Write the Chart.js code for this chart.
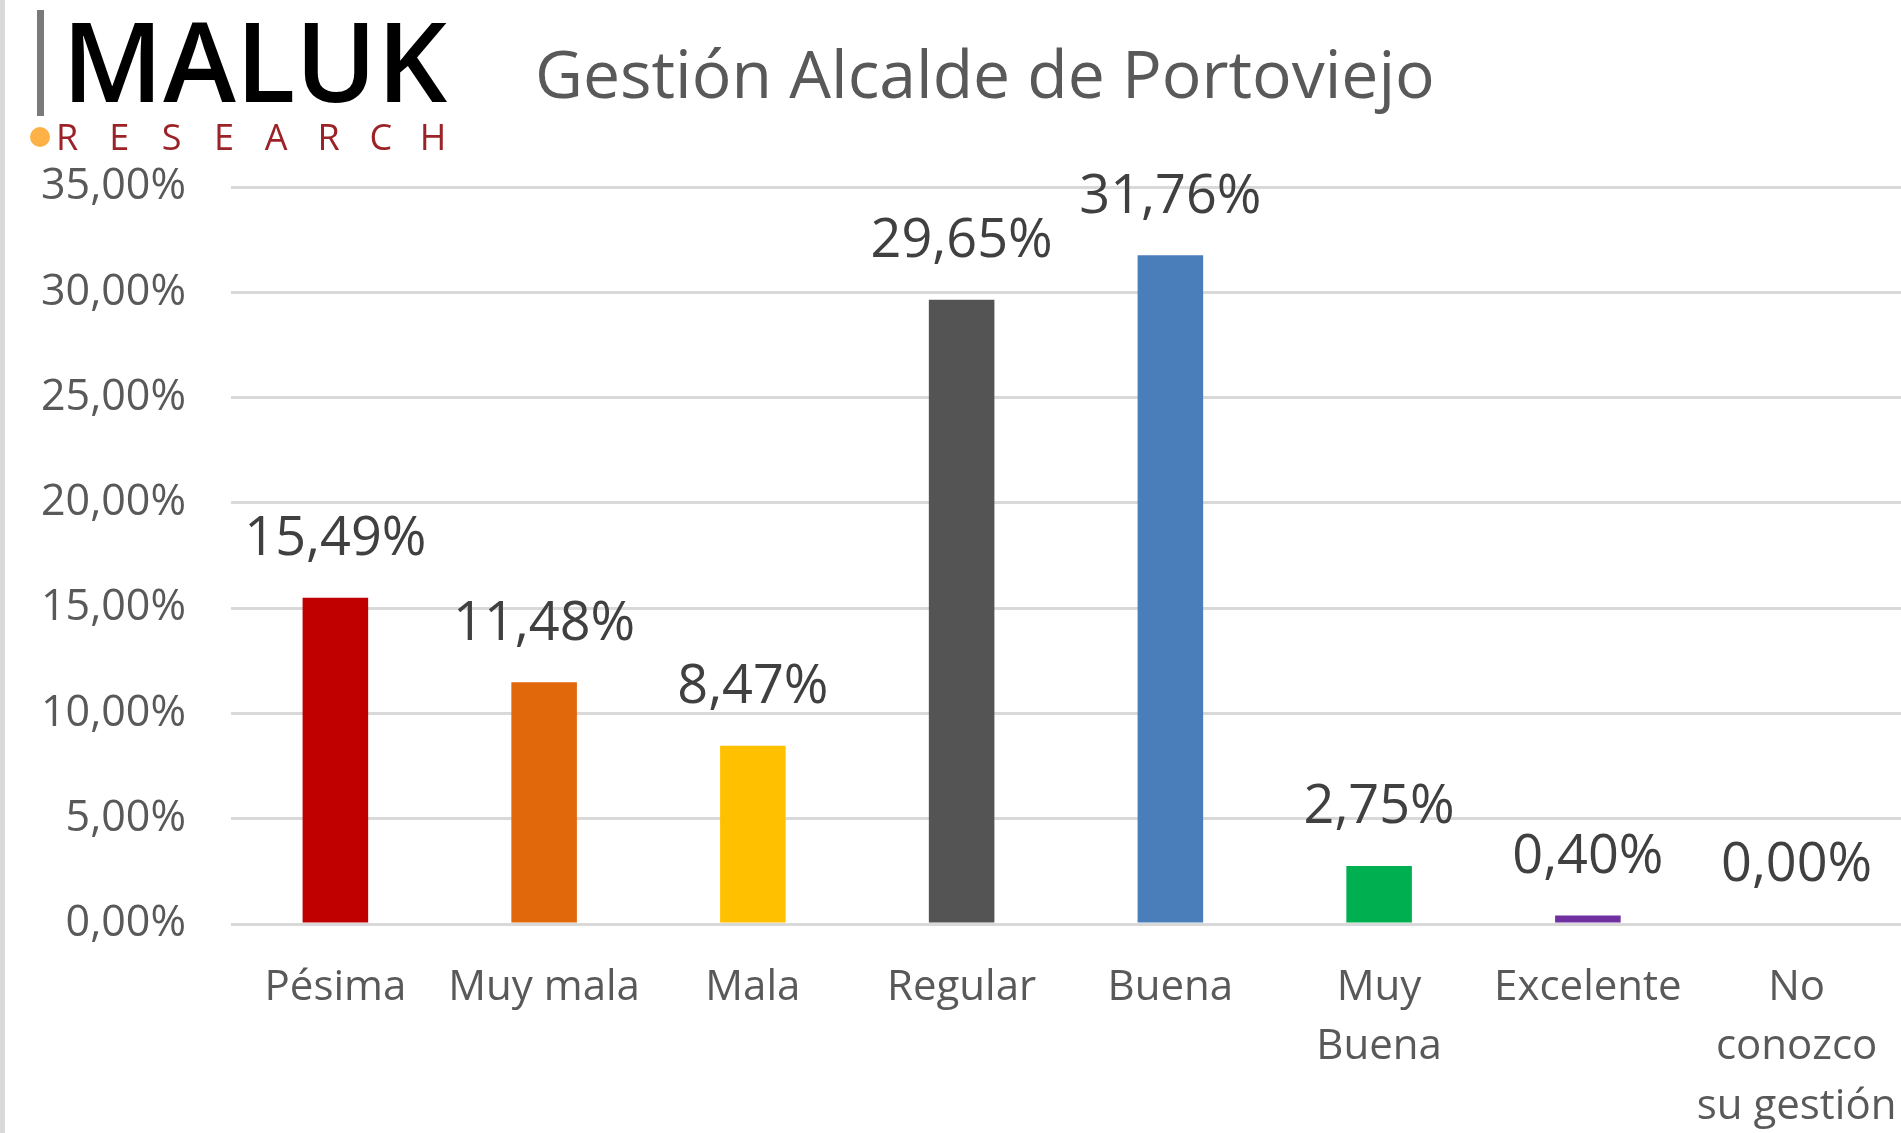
<!DOCTYPE html>
<html>
<head>
<meta charset="utf-8">
<script src="https://cdn.jsdelivr.net/npm/chart.js@4/dist/chart.umd.min.js"></script>
<style>
  html, body { margin: 0; padding: 0; background: #fff; }
  #wrap { width: 1901px; height: 1133px; position: relative; }
</style>
</head>
<body>
<div id="wrap"><canvas id="chartGestion"></canvas></div>
<script>
const categorias = ['Pésima', 'Muy mala', 'Mala', 'Regular', 'Buena', ['Muy', 'Buena'], 'Excelente', ['No', 'conozco', 'su gestión']];
const porcentajes = [15.49, 11.48, 8.47, 29.65, 31.76, 2.75, 0.40, 0.00];
const colores = ['#C00000', '#E2680C', '#FFC000', '#545454', '#4A7EBB', '#00B050', '#7030A0', '#2E75B6'];
const titulo = 'Gestión Alcalde de Portoviejo';

const FUENTE = '"Open Sans", "Noto Sans", sans-serif';

function fmtPct(v) {
    return v.toFixed(2).replace('.', ',') + '%';
}

function textoAjustado(ctx, txt, x, y, ancho, peso, color) {
    ctx.font = `${peso} 100px ${FUENTE}`;
    const w = ctx.measureText(txt).width;
    const size = 100 * ancho / w;
    ctx.font = `${peso} ${size}px ${FUENTE}`;
    ctx.fillStyle = color;
    ctx.fillText(txt, x, y);
}

// logo + titulo + borde izquierdo
const decoracion = {
    id: 'decoracion',
    beforeDraw(chart) {
        const ctx = chart.ctx;
        ctx.save();
        ctx.fillStyle = '#fff';
        ctx.fillRect(0, 0, chart.width, chart.height);
        ctx.fillStyle = '#d9d9d9';
        ctx.fillRect(0, 0, 5, chart.height);
        // barra gris del logo
        ctx.fillStyle = '#7a7a7a';
        ctx.fillRect(37, 10, 7, 106);
        ctx.textBaseline = 'alphabetic';
        ctx.textAlign = 'left';
        textoAjustado(ctx, 'MALUK', 62, 102, 385, 600, '#000');
        // RESEARCH
        ctx.font = `500 36px ${FUENTE}`;
        ctx.fillStyle = '#9b2226';
        ctx.textAlign = 'center';
        'RESEARCH'.split('').forEach((l, i) => ctx.fillText(l, 67 + i * 52.3, 150));
        ctx.fillStyle = '#FDB147';
        ctx.beginPath();
        ctx.arc(40, 137, 10, 0, Math.PI * 2);
        ctx.fill();
        // titulo
        ctx.textAlign = 'left';
        textoAjustado(ctx, titulo, 535, 98, 900, 400, '#595959');
        ctx.restore();
    }
};

const etiquetas = {
    id: 'etiquetas',
    afterDatasetsDraw(chart) {
        const ctx = chart.ctx;
        const meta = chart.getDatasetMeta(0);
        ctx.save();
        ctx.font = `54px ${FUENTE}`;
        ctx.fillStyle = '#404040';
        ctx.textAlign = 'center';
        ctx.textBaseline = 'middle';
        meta.data.forEach((bar, i) => {
            ctx.fillText(fmtPct(porcentajes[i]), bar.x, bar.y - 58);
        });
        ctx.restore();
    }
};

const ctx = document.getElementById('chartGestion').getContext('2d');
new Chart(ctx, {
    type: 'bar',
    data: {
        labels: categorias,
        datasets: [{
            data: porcentajes,
            backgroundColor: colores,
            borderWidth: 0,
            categoryPercentage: 1,
            barPercentage: 0.314
        }]
    },
    options: {
        responsive: true,
        maintainAspectRatio: false,
        animation: false,
        devicePixelRatio: 1,
        layout: { padding: { top: 187, right: 0, left: 0, bottom: 0 } },
        plugins: {
            legend: { display: false },
            tooltip: { enabled: false },
            title: { display: false }
        },
        scales: {
            x: {
                grid: { display: false, drawTicks: false },
                border: { display: false },
                ticks: {
                    color: '#595959',
                    font: { family: FUENTE, size: 42, lineHeight: 1.42 },
                    padding: 34,
                    maxRotation: 0,
                    autoSkip: false
                },
                afterFit(scale) {
                    scale.height = 209;
                    scale.paddingLeft = 0;
                    scale.paddingRight = 0;
                }
            },
            y: {
                min: 0,
                max: 35,
                ticks: {
                    stepSize: 5,
                    color: '#595959',
                    font: { family: FUENTE, size: 43 },
                    padding: 45,
                    callback: (v) => fmtPct(v)
                },
                grid: { color: '#d9d9d9', lineWidth: 3, drawTicks: false },
                border: { display: false },
                afterFit(scale) {
                    scale.width = 231;
                }
            }
        }
    },
    plugins: [decoracion, etiquetas]
});
</script>
</body>
</html>
